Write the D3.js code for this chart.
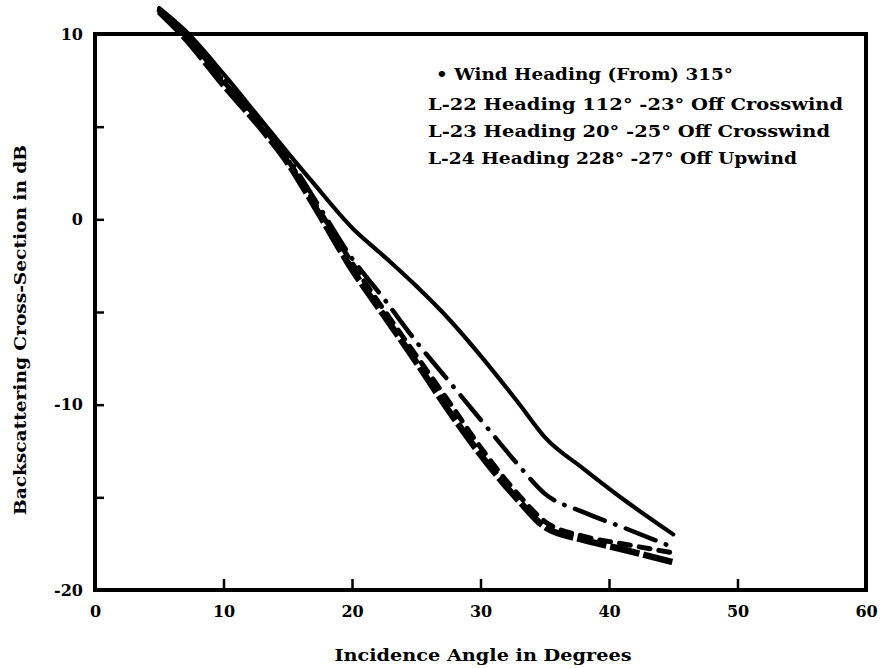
<!DOCTYPE html>
<html>
<head>
<meta charset="utf-8">
<script src="https://cdn.jsdelivr.net/npm/d3@7"></script>
<style>
  html, body { margin: 0; padding: 0; background: #fff; }
  svg { display: block; }
  text { font-family: "DejaVu Serif", "Liberation Serif", serif; font-weight: bold; fill: #000; }
</style>
</head>
<body>
<svg id="chart" width="882" height="668"></svg>
<script>
// ---- data ----
const xTicks = [0, 10, 20, 30, 40, 50, 60];
const xTickLabels = ["0", "10", "20", "30", "40", "50", "60"];
const yTicks = [-20, -15, -10, -5, 0, 5, 10];
const yTickLabels = ["-20", "", "-10", "", "0", "", "10"];

const angles = [5, 7, 10, 13, 15, 17, 20, 22.5, 25, 27.5, 30, 33, 35, 38, 41, 45];
const solidValues   = [11.4, 10.2, 7.85, 5.3, 3.6, 1.95, -0.45, -2.0, -3.6, -5.35, -7.35, -9.95, -11.75, -13.45, -15.05, -17.0];
const dashDotValues = [11.3, 10.05, 7.6, 5.1, 3.35, 1.2, -2.1, -4.3, -6.6, -8.7, -10.8, -13.3, -14.8, -15.8, -16.6, -17.7];
const dashedValues  = [11.25, 9.95, 7.45, 5.0, 3.2, 1.0, -2.35, -4.9, -7.35, -9.8, -12.3, -14.9, -16.3, -17.1, -17.5, -18.0];
const heavyValues   = [11.2, 9.8, 7.25, 4.85, 3.05, 0.8, -2.7, -5.2, -7.7, -10.3, -12.7, -15.2, -16.6, -17.3, -17.8, -18.5];

const legendLines = [
  "\u2022 Wind Heading (From) 315\u00b0",
  "L-22 Heading 112\u00b0 -23\u00b0 Off Crosswind",
  "L-23 Heading 20\u00b0 -25\u00b0 Off Crosswind",
  "L-24 Heading 228\u00b0 -27\u00b0 Off Upwind"
];
const xTitle = "Incidence Angle in Degrees";
const yTitle = "Backscattering Cross-Section in dB";

// ---- layout ----
const svg = d3.select("#chart");
const plotLeft = 95, plotRight = 866, plotTop = 34, plotBottom = 590;

const x = d3.scaleLinear().domain([0, 60]).range([plotLeft, plotRight]);
const y = d3.scaleLinear().domain([-20, 10]).range([plotBottom, plotTop]);

// axes
const yAxis = d3.axisLeft(y)
  .tickValues(yTicks)
  .tickSize(-9)
  .tickPadding(12)
  .tickFormat((d, i) => yTickLabels[i]);
const gy = svg.append("g").attr("transform", `translate(${plotLeft},0)`).call(yAxis);
gy.select(".domain").remove();
gy.selectAll(".tick line").attr("stroke", "#000").attr("stroke-width", 2.5);
gy.selectAll(".tick text").attr("font-size", 16).attr("fill", "#000")
  .style("font-family", '"DejaVu Serif", serif').style("font-weight", "bold");

const xAxis = d3.axisBottom(x)
  .tickValues(xTicks)
  .tickSize(-11)
  .tickPadding(16)
  .tickFormat((d, i) => xTickLabels[i]);
const gx = svg.append("g").attr("transform", `translate(0,${plotBottom})`).call(xAxis);
gx.select(".domain").remove();
gx.selectAll(".tick line").attr("stroke", "#000").attr("stroke-width", 2.5)
  .filter(d => d === 0 || d === 60).remove();
gx.selectAll(".tick text").attr("font-size", 16).attr("fill", "#000")
  .style("font-family", '"DejaVu Serif", serif').style("font-weight", "bold");

// frame
svg.append("rect")
  .attr("x", plotLeft).attr("y", plotTop)
  .attr("width", plotRight - plotLeft).attr("height", plotBottom - plotTop)
  .attr("fill", "none").attr("stroke", "#000").attr("stroke-width", 4);

// lines
const line = d3.line()
  .x(d => x(d[0])).y(d => y(d[1]))
  .curve(d3.curveMonotoneX);

const series = [
  { values: heavyValues,   width: 6.5, dash: "30,4",          cap: "butt" },
  { values: dashedValues,  width: 5,   dash: "11,9",          cap: "round" },
  { values: dashDotValues, width: 4.5, dash: "32,11,0.5,11",  cap: "round" },
  { values: solidValues,   width: 4.2, dash: null,            cap: "round" }
];

series.forEach(s => {
  svg.append("path")
    .datum(angles.map((a, i) => [a, s.values[i]]))
    .attr("d", line)
    .attr("fill", "none")
    .attr("stroke", "#000")
    .attr("stroke-width", s.width)
    .attr("stroke-linecap", s.cap)
    .attr("stroke-linejoin", "round")
    .attr("stroke-dasharray", s.dash);
});

// legend text
const legendX = [436, 428, 428, 428];
const legendY = [80, 110, 137, 164];
const legendLen = [297, 415, 402, 369];
legendLines.forEach((t, i) => {
  svg.append("text")
    .attr("x", legendX[i]).attr("y", legendY[i])
    .attr("font-size", 17)
    .attr("textLength", legendLen[i])
    .attr("lengthAdjust", "spacingAndGlyphs")
    .text(t);
});

// axis titles
svg.append("text")
  .attr("x", 483).attr("y", 661)
  .attr("text-anchor", "middle")
  .attr("font-size", 17)
  .attr("textLength", 297)
  .attr("lengthAdjust", "spacingAndGlyphs")
  .text(xTitle);

svg.append("text")
  .attr("transform", "translate(26,330) rotate(-90)")
  .attr("text-anchor", "middle")
  .attr("font-size", 17)
  .attr("textLength", 370)
  .attr("lengthAdjust", "spacingAndGlyphs")
  .text(yTitle);
</script>
</body>
</html>
